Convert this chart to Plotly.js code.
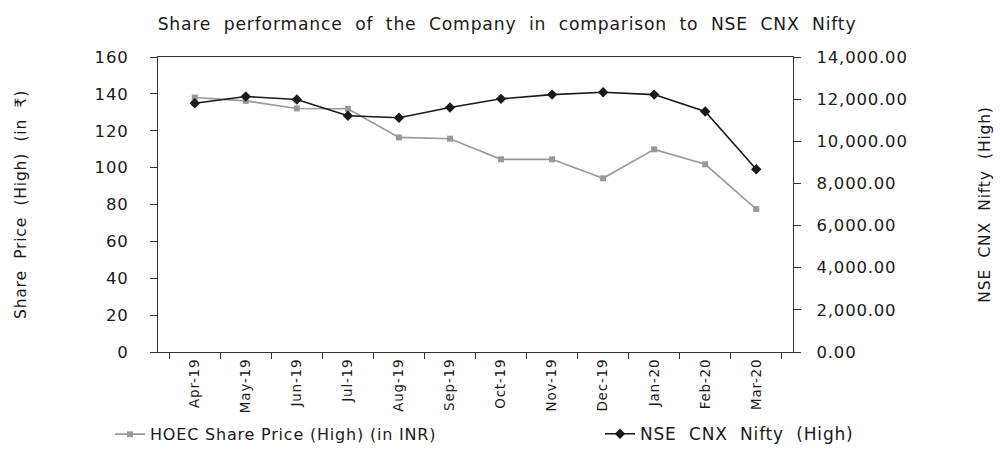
<!DOCTYPE html>
<html>
<head>
<meta charset="utf-8">
<script src="https://cdn.plot.ly/plotly-3.0.1.min.js"></script>
<style>
html,body{margin:0;padding:0;background:#fff;}
#chart{width:1000px;height:450px;}
svg text{letter-spacing:0.8px;}
</style>
</head>
<body>
<div id="chart"></div>
<script>
var months = ["Apr-19","May-19","Jun-19","Jul-19","Aug-19","Sep-19","Oct-19","Nov-19","Dec-19","Jan-20","Feb-20","Mar-20"];
var hoecHigh = [138.0, 136.2, 132.1, 131.9, 116.4, 115.7, 104.5, 104.5, 94.2, 109.9, 101.8, 77.5];
var niftyHigh = [11805, 12125, 11980, 11210, 11115, 11605, 12015, 12215, 12330, 12215, 11415, 8670];
var leftTicks = [0,20,40,60,80,100,120,140,160];
var rightTicks = [0,2000,4000,6000,8000,10000,12000,14000];

var fontFam = '"DejaVu Sans", sans-serif';
var axisCol = '#333333';

var traces = [
  {
    x: months, y: hoecHigh, name: 'HOEC Share Price (High) (in INR)',
    type: 'scatter', mode: 'lines+markers', yaxis: 'y', legend: 'legend',
    line: {color: '#999999', width: 1.6},
    marker: {symbol: 'square', size: 6, color: '#999999'}
  },
  {
    x: months, y: niftyHigh, name: 'NSE  CNX  Nifty  (High)',
    type: 'scatter', mode: 'lines+markers', yaxis: 'y2', legend: 'legend2',
    line: {color: '#1a1a1a', width: 1.6},
    marker: {symbol: 'diamond', size: 8, color: '#1a1a1a'}
  }
];

var layout = {
  width: 1000, height: 450,
  margin: {l: 158, r: 207, t: 57, b: 98},
  paper_bgcolor: '#ffffff', plot_bgcolor: '#ffffff',
  font: {family: fontFam, size: 15, color: '#1a1a1a'},
  title: {text: 'Share  performance  of  the  Company  in  comparison  to  NSE  CNX  Nifty',
          x: 0.507, xref: 'container', xanchor: 'center', y: 0.96, yref: 'container',
          font: {size: 17.2, family: fontFam, color: '#1a1a1a'}},
  xaxis: {
    type: 'category', showline: true, linecolor: axisCol, linewidth: 1.2, mirror: true,
    ticks: 'outside', tickson: 'boundaries', ticklen: 6, tickcolor: axisCol,
    tickangle: -90, tickfont: {size: 13.5}, showgrid: false, zeroline: false
  },
  yaxis: {
    range: [0, 160], tickvals: leftTicks, showline: true, linecolor: axisCol, linewidth: 1.2,
    ticks: 'outside', ticklen: 7, tickcolor: axisCol, showgrid: false, zeroline: false,
    tickfont: {size: 16.5}, ticklabelstandoff: 18,
    title: {text: 'Share  Price  (High)  (in  ₹)', standoff: 64, font: {size: 15.5}}
  },
  yaxis2: {
    range: [0, 14000], tickvals: rightTicks, tickformat: ',.2f', overlaying: 'y', side: 'right',
    showline: true, linecolor: axisCol, linewidth: 1.2,
    ticks: 'outside', ticklen: 7, tickcolor: axisCol, showgrid: false, zeroline: false,
    tickfont: {size: 16.5}, ticklabelstandoff: 12,
    title: {text: 'NSE  CNX  Nifty  (High)', standoff: 72, font: {size: 15.5}}
  },
  legend: {orientation: 'h', x: 0.11, xref: 'container', y: 0.035, yref: 'container',
           xanchor: 'left', yanchor: 'middle', font: {size: 16}, bgcolor: 'rgba(0,0,0,0)'},
  legend2: {orientation: 'h', x: 0.6, xref: 'container', y: 0.035, yref: 'container',
           xanchor: 'left', yanchor: 'middle', font: {size: 17}, bgcolor: 'rgba(0,0,0,0)'},
  showlegend: true
};

Plotly.newPlot('chart', traces, layout, {displayModeBar: false, staticPlot: true});
</script>
</body>
</html>
